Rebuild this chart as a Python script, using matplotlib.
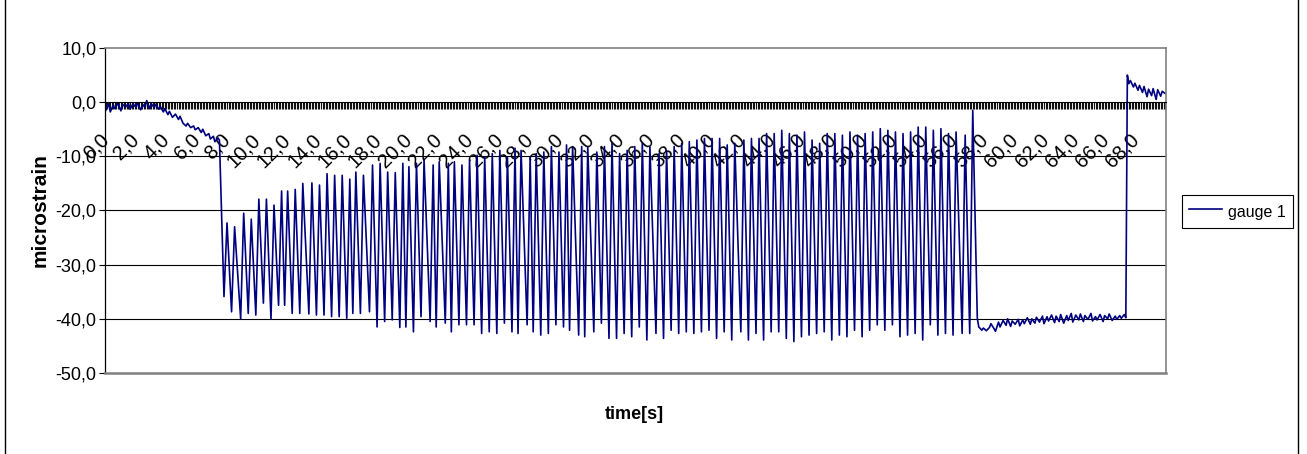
import numpy as np
import matplotlib.pyplot as plt
from matplotlib.ticker import MultipleLocator, FuncFormatter
from matplotlib.patches import Rectangle

plt.rcParams['font.family'] = ['Liberation Sans', 'DejaVu Sans']

# drift before the load starts (time in s, strain in microstrain)
t_start = [0.0, 0.2, 0.3, 0.5, 0.6, 0.8, 1.0, 1.1, 1.3, 1.5, 1.6, 1.8, 2.0, 2.1,
           2.3, 2.5, 2.6, 2.7, 2.9, 3.0, 3.2, 3.3, 3.5, 3.6, 3.8, 3.9, 4.1, 4.2,
           4.4, 4.6, 4.8, 4.9, 5.1, 5.3, 5.4, 5.6, 5.8, 5.9, 6.1, 6.3, 6.4, 6.6,
           6.8, 6.9, 7.1, 7.2, 7.4, 7.5]
s_start = [-1.5, -0.3, -1.8, -0.5, -1.2, -0.2, -1.6, -0.4, -0.9, -0.2, -1.3, -0.3, -1.0, -0.1,
           -1.4, -0.5, -0.9, 0.3, -1.2, -0.3, -1.0, -0.4, -1.3, -0.8, -1.8, -1.2, -2.3, -1.7,
           -2.8, -2.2, -3.2, -2.6, -3.9, -4.4, -3.9, -4.7, -4.4, -5.1, -4.7, -5.6, -5.0, -6.2,
           -5.8, -6.8, -6.3, -7.3, -6.6, -7.0]

# cyclic loading: lowest and highest reading of every cycle
trough_t = [7.8, 8.3, 8.9, 9.4, 9.9, 10.4, 10.9, 11.4, 11.8, 12.3, 12.8, 13.4,
            13.9, 14.4, 14.9, 15.4, 15.9, 16.3, 16.8, 17.4, 17.9, 18.4, 18.9, 19.4,
            19.8, 20.3, 20.8, 21.4, 21.8, 22.4, 22.8, 23.3, 23.8, 24.3, 24.8, 25.3,
            25.8, 26.3, 26.8, 27.2, 27.8, 28.2, 28.7, 29.2, 29.7, 30.2, 30.6, 31.2,
            31.6, 32.2, 32.7, 33.2, 33.7, 34.2, 34.7, 35.2, 35.7, 36.3, 36.8, 37.3,
            37.8, 38.3, 38.8, 39.3, 39.8, 40.3, 40.8, 41.3, 41.9, 42.4, 42.9, 43.4,
            43.9, 44.4, 44.9, 45.4, 45.9, 46.4, 46.9, 47.4, 47.9, 48.4, 48.9, 49.4,
            49.9, 50.4, 50.9, 51.4, 51.9, 52.4, 52.9, 53.4, 53.9, 54.4, 54.9, 55.4,
            55.9, 56.5, 57.0]
trough_s = [-35.9, -38.7, -40.0, -39.0, -39.3, -37.1, -40.0, -37.5, -37.5, -39.0, -39.0, -39.1,
            -39.3, -39.3, -39.6, -39.6, -39.9, -39.0, -39.0, -38.7, -41.5, -40.5, -40.2, -41.6,
            -41.5, -42.4, -39.6, -40.5, -41.5, -40.8, -42.4, -41.1, -41.1, -41.1, -42.7, -42.4,
            -42.7, -40.8, -42.4, -42.7, -41.1, -42.4, -43.0, -42.7, -41.1, -41.5, -42.1, -43.0,
            -43.3, -42.4, -40.8, -43.6, -43.6, -42.7, -43.3, -41.5, -43.9, -42.7, -43.6, -42.1,
            -42.7, -42.4, -42.7, -42.4, -42.1, -43.6, -42.4, -43.9, -42.4, -43.9, -42.7, -43.9,
            -42.4, -42.4, -43.6, -44.2, -43.3, -43.0, -42.7, -42.4, -43.9, -43.0, -43.3, -42.1,
            -43.3, -42.1, -41.1, -42.1, -41.1, -43.3, -43.0, -42.7, -43.9, -41.1, -43.0, -42.7,
            -43.0, -42.7, -42.7]
peak_t = [8.0, 8.5, 9.1, 9.6, 10.1, 10.6, 11.1, 11.6, 12.0, 12.5, 13.0, 13.6,
          14.1, 14.6, 15.1, 15.6, 16.1, 16.5, 17.0, 17.6, 18.1, 18.6, 19.1, 19.6,
          20.0, 20.5, 21.0, 21.6, 22.0, 22.6, 23.0, 23.5, 24.0, 24.5, 25.0, 25.5,
          26.0, 26.5, 27.0, 27.4, 28.0, 28.4, 28.9, 29.4, 29.9, 30.4, 30.8, 31.4,
          31.8, 32.4, 32.9, 33.4, 33.9, 34.4, 34.9, 35.4, 35.9, 36.5, 37.0, 37.5,
          38.0, 38.5, 39.0, 39.5, 40.0, 40.5, 41.0, 41.5, 42.1, 42.6, 43.1, 43.6,
          44.1, 44.6, 45.1, 45.6, 46.1, 46.6, 47.1, 47.6, 48.1, 48.6, 49.1, 49.6,
          50.1, 50.6, 51.1, 51.6, 52.1, 52.6, 53.1, 53.6, 54.1, 54.6, 55.1, 55.6,
          56.1, 56.7, 57.2]
peak_s = [-22.3, -23.0, -20.5, -21.6, -17.9, -17.9, -19.0, -16.4, -16.4, -16.1, -15.0, -14.9,
          -15.3, -13.2, -13.5, -13.5, -14.2, -12.9, -13.5, -11.6, -11.3, -12.9, -13.0, -11.3,
          -11.9, -11.3, -10.7, -11.6, -11.0, -11.3, -11.0, -11.6, -10.7, -9.8, -10.1, -9.5,
          -8.9, -10.1, -8.5, -8.9, -10.1, -9.5, -9.2, -8.2, -9.2, -7.9, -8.2, -8.2,
          -8.2, -9.2, -8.2, -7.6, -9.5, -8.9, -8.2, -7.6, -8.2, -9.5, -8.9, -8.2,
          -7.6, -7.3, -7.0, -6.7, -6.7, -6.7, -7.9, -7.6, -7.0, -6.7, -6.7, -5.8,
          -5.8, -5.2, -5.8, -6.1, -5.5, -7.0, -7.6, -5.8, -5.8, -6.1, -5.5, -6.1,
          -5.8, -5.5, -4.9, -5.2, -5.5, -5.8, -5.5, -4.6, -4.6, -5.2, -4.9, -5.8,
          -5.5, -6.1, -1.5]

# hold after unloading
t_hold = [57.5, 57.6, 57.8, 57.9, 58.1, 58.3, 58.4, 58.6, 58.7, 58.9, 59.0, 59.2,
          59.4, 59.5, 59.7, 59.8, 60.0, 60.2, 60.3, 60.5, 60.6, 60.8, 61.0, 61.1,
          61.3, 61.4, 61.6, 61.8, 61.9, 62.1, 62.2, 62.4, 62.6, 62.7, 62.9, 63.0,
          63.2, 63.4, 63.5, 63.7, 63.8, 64.0, 64.2, 64.3, 64.5, 64.6, 64.8, 65.0,
          65.1, 65.3, 65.4, 65.6, 65.8, 65.9, 66.1, 66.2, 66.4, 66.6, 66.7, 66.9,
          67.0, 67.2, 67.3]
s_hold = [-39.9, -41.5, -42.1, -41.7, -42.2, -41.6, -40.9, -41.8, -42.3, -40.6, -41.5, -40.3,
          -41.2, -40.0, -41.4, -40.4, -41.0, -40.1, -41.3, -40.2, -40.9, -39.8, -41.0, -40.0,
          -40.8, -39.7, -40.6, -39.5, -40.9, -39.6, -40.4, -39.3, -40.7, -39.5, -40.5, -39.2,
          -40.8, -39.4, -40.3, -39.0, -40.6, -39.3, -40.2, -39.1, -40.5, -39.4, -40.1, -39.0,
          -40.4, -39.6, -40.2, -39.2, -40.5, -39.4, -40.0, -39.1, -40.3, -39.5, -40.1, -39.4,
          -39.9, -39.2, -39.8]

# release
t_end = [67.4, 67.5, 67.6, 67.8, 67.9, 68.1, 68.2, 68.4, 68.5, 68.7, 68.8, 69.0,
         69.1, 69.3, 69.4, 69.6, 69.7, 69.9]
s_end = [5.0, 3.4, 4.0, 2.8, 3.5, 2.2, 3.1, 1.8, 2.9, 1.0, 2.4, 1.2,
         2.5, 0.5, 2.3, 1.1, 2.0, 1.6]

osc_t = np.column_stack([trough_t, peak_t]).ravel()
osc_s = np.column_stack([trough_s, peak_s]).ravel()
time = np.concatenate([t_start, osc_t, t_hold, t_end])
strain = np.concatenate([s_start, osc_s, s_hold, s_end])

W, H = 1307, 454
fig = plt.figure(figsize=(W / 100, H / 100), dpi=100)
ax = fig.add_axes([105 / W, 1 - 373 / H, (1166 - 105) / W, (373 - 48) / H])

line, = ax.plot(time, strain, color='#000080', lw=1.2, zorder=2)

ax.set_xlim(-0.05, 69.95)
ax.set_ylim(-50, 10)

comma = FuncFormatter(lambda v, pos: f'{v:.1f}'.replace('.', ','))

ax.yaxis.set_major_locator(MultipleLocator(10))
ax.yaxis.set_major_formatter(comma)
ax.tick_params(axis='y', direction='out', length=4, width=0.8, labelsize=13, pad=2)
for y in [-40, -30, -20, -10]:
    ax.axhline(y, color='black', lw=0.8, zorder=1)

# category axis crosses at zero, one tick per sample
ax.spines['bottom'].set_position(('data', 0))
ax.spines['bottom'].set_color('black')
ax.spines['bottom'].set_linewidth(0.8)
ax.xaxis.set_major_locator(MultipleLocator(2))
ax.xaxis.set_minor_locator(MultipleLocator(0.1))
ax.xaxis.set_major_formatter(comma)
ax.tick_params(axis='x', which='both', direction='out', length=5, width=0.8, color='#111111')
ax.tick_params(axis='x', which='major', labelsize=14.5, pad=20)
for lab in ax.get_xticklabels():
    lab.set_rotation(45)
    lab.set_rotation_mode('anchor')
    lab.set_ha('right')
    lab.set_va('center')

for side in ['top', 'right']:
    ax.spines[side].set_color('#808080')
    ax.spines[side].set_linewidth(1.2)
ax.spines['left'].set_color('black')
ax.spines['left'].set_linewidth(0.9)

# bottom frame edge of the plot area
ax.axhline(-50, color='#808080', lw=1.8, zorder=3, clip_on=False)

ax.set_ylabel('microstrain', fontsize=15, fontweight='bold')
ax.yaxis.label.set_va('center')
ax.yaxis.set_label_coords(-0.061, 0.5)
ax.set_xlabel('time[s]', fontsize=13, fontweight='bold')
ax.xaxis.label.set_va('center')
ax.xaxis.set_label_coords(0.4986, -0.129)

leg = fig.legend([line], ['gauge 1'], loc='center left', bbox_to_anchor=(1182 / W, 1 - 211.5 / H),
                 fancybox=False, edgecolor='black', framealpha=1, fontsize=11.5,
                 handlelength=2.1, handleheight=1.5, handletextpad=0.37, borderpad=0.42,
                 borderaxespad=0)
leg.get_frame().set_linewidth(0.8)

fig.add_artist(Rectangle((5 / W, -0.01), (1298 - 5) / W, 1.02, transform=fig.transFigure,
                         fill=False, edgecolor='black', lw=1))

fig.savefig('out.png', dpi=100)
